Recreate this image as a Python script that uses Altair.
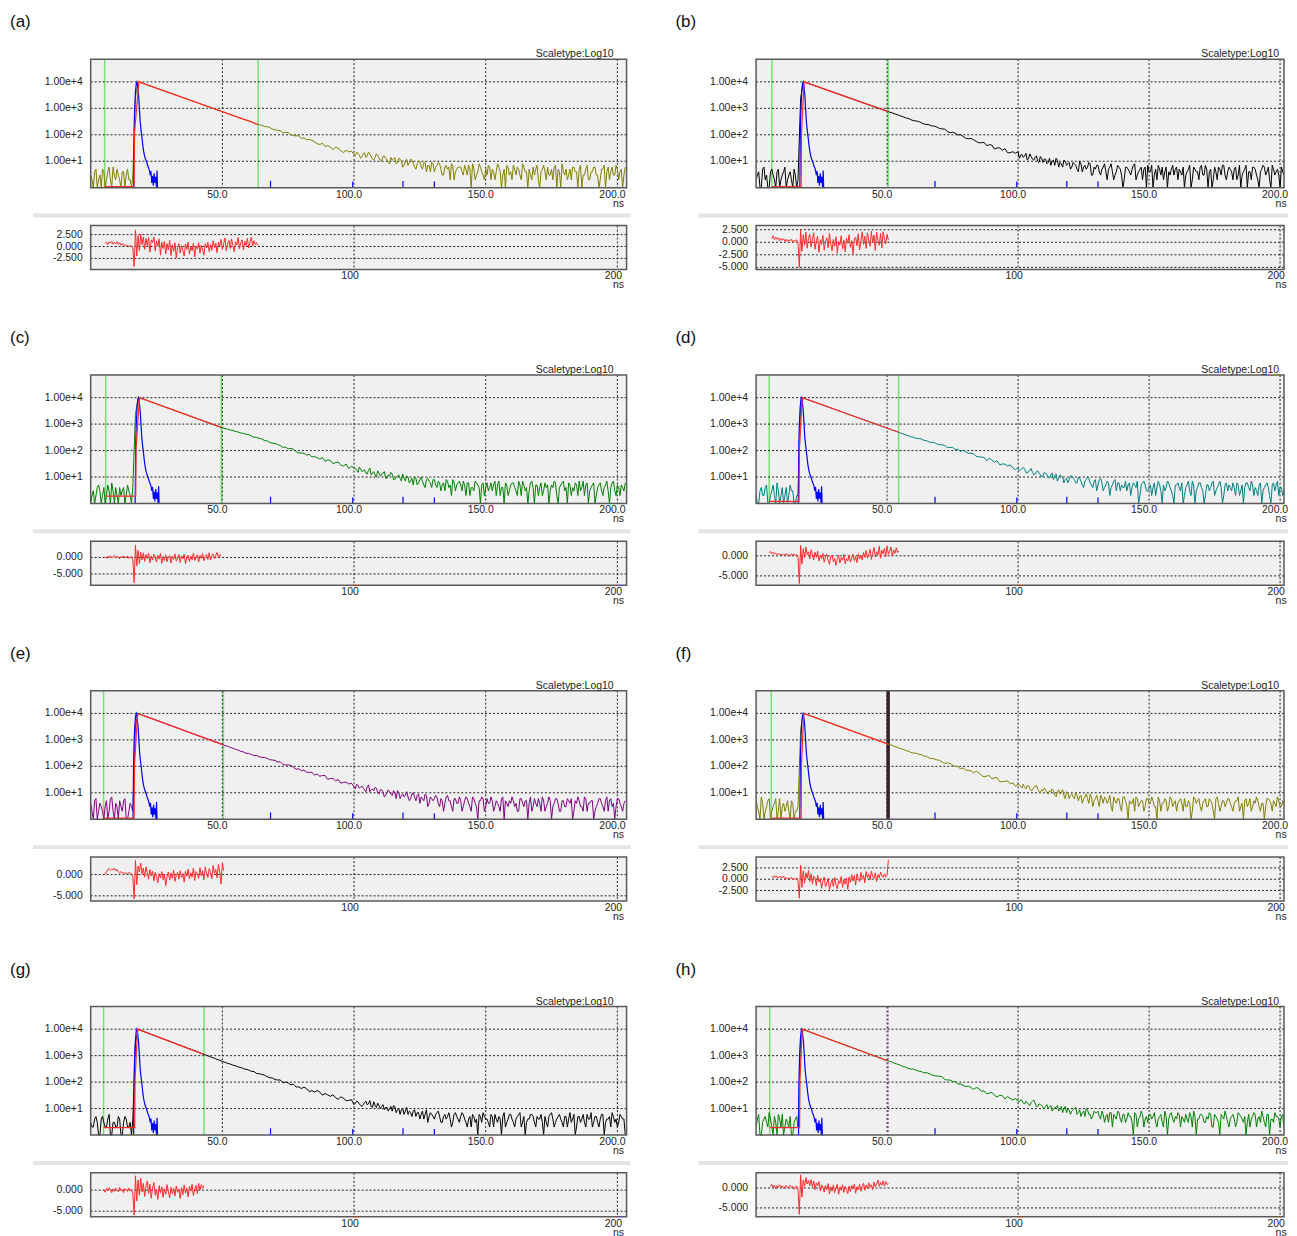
import altair as alt
import pandas as pd

FONT = "Arial"
TXT = "#222222"
BG = "#f0f0f0"
FRAME = "#5a5a5a"
OLIVE = "#7f7f00"
BLACK = "#000000"
GREEN_D = "#007f00"
TEAL = "#007f7f"
PURPLE = "#7f007f"
MARK_GREEN = "#72e472"
FIT_RED = "#ff2a2a"
IRF_BLUE = "#0000ff"

MAIN_H, RES_TOP, RES_BOT = 129, 167, 211
YTOP = 72000

# decay histograms, 1 ns bins starting at 0 ns
DECAY_A = [
    3, 1, 5, 2, 1, 4, 2, 6, 1, 3, 5, 2, 4, 1, 5, 2, 3,
    2600, 9600, 9400, 8700,
    8050, 7360, 6840, 6250, 5810, 5300, 4930, 4510, 4190, 3830,
    3560, 3250, 3030, 2760, 2570, 2330, 2190, 1980, 1860, 1690,
    1580, 1420, 1350, 1200, 1140, 1030, 968, 870, 825, 738,
    702, 628, 596, 530, 506, 452, 431, 382, 366,
    338, 317, 275, 249, 239, 228, 205, 203, 189, 163,
    155, 148, 144, 119, 125, 121, 101, 94, 91, 92,
    73, 76, 65, 66, 63, 54, 46, 43, 48, 36,
    39, 34, 28, 34, 31, 25, 21.5, 26, 22.5, 24,
    18.6,
    22, 17, 15, 21, 16, 19, 12, 14, 17, 11,
    15, 13, 9, 14, 12, 8, 13, 10, 7, 12,
    9, 11, 6, 8, 10, 5, 9, 7, 4, 8,
    6, 9, 5, 3, 7, 6, 8, 2, 5, 6,
    4, 7, 3, 5, 8, 2, 4, 6, 3, 5,
    7, 2, 4, 4, 6, 1, 5, 7, 3, 2,
    5, 6, 3, 8, 4, 1, 3, 6, 5, 2,
    4, 7, 2, 3, 5, 6, 1, 4, 8, 3,
    2, 5, 6, 4, 1, 7, 3, 5, 2, 4,
    6, 3, 1, 5, 7, 4, 2, 6, 3, 5,
    4, 1, 6,
]
DECAY_B = [
    2, 4, 1, 6, 3, 1, 5, 2, 4, 1, 3, 6, 2, 4, 1, 3, 2,
    2400, 9500, 9450, 8750,
    8010, 7460, 6830, 6370, 5800, 5420, 4940, 4620, 4200, 3940,
    3590, 3350, 3050, 2850, 2590, 2430, 2210, 2070, 1880, 1770,
    1600, 1500, 1360, 1280, 1160, 1090, 985, 928, 840, 790,
    716, 674, 610, 573, 519, 490, 441, 418, 375,
    344, 335, 319, 287, 258, 246, 240, 216, 214, 196,
    173, 166, 165, 135, 120, 125, 115, 98, 102, 87,
    74, 71, 73, 65, 56, 50, 50, 52, 39, 42,
    41, 29, 32, 32, 26, 30, 21, 21, 23, 20,
    23,
    17, 14, 20, 13, 15, 11, 16, 9, 13, 12,
    8, 13, 10, 7, 11, 9, 6, 10, 8, 5,
    9, 7, 4, 8, 6, 5, 9, 3, 6, 7,
    4, 5, 8, 2, 6, 4, 3, 7, 5, 1,
    6, 5, 3, 7, 2, 4, 6, 5, 1, 4,
    7, 3, 2, 5, 6, 4, 1, 3, 7, 5,
    2, 4, 6, 3, 5, 1, 6, 4, 2, 7,
    3, 5, 4, 1, 6, 2, 5, 7, 3, 4,
    5, 2, 6, 3, 1, 4, 7, 4, 2, 6,
    3, 1, 5, 6, 4, 2, 7, 3, 5, 1,
    4, 6, 2,
]
DECAY_C = [
    1, 3, 2, 5, 1, 4, 2, 3, 6, 1, 2, 4, 3, 1, 5, 2, 4,
    2300, 9700, 9560, 8870,
    8100, 7510, 6840, 6350, 5790, 5380, 4890, 4560, 4140, 3870,
    3500, 3280, 2960, 2780, 2500, 2360, 2110, 1990, 1790, 1690,
    1510, 1430, 1280, 1210, 1080, 1030, 915, 868, 772,
    735, 676, 648, 594, 571, 526, 505, 462, 446, 411,
    406, 354, 321, 315, 286, 276, 240, 232, 202, 190,
    187, 169, 153, 131, 136, 116, 121, 111, 91, 81,
    81, 79, 68, 72, 57, 60, 54, 47, 55, 39,
    45, 42, 32, 35, 37, 28, 26, 31, 21, 25,
    22,
    18, 24, 16, 19, 13, 22, 14, 12, 17, 11,
    14, 9, 12, 15, 8, 10, 12, 7, 9, 11,
    6, 9, 10, 5, 8, 7, 4, 9, 6, 8,
    5, 7, 3, 6, 8, 4, 2, 6, 5, 7,
    3, 5, 6, 2, 4, 7, 5, 1, 6, 4,
    3, 6, 5, 2, 7, 4, 1, 5, 3, 6,
    4, 2, 5, 7, 3, 1, 6, 4, 5, 2,
    6, 3, 4, 1, 5, 7, 2, 4, 6, 3,
    1, 5, 4, 6, 2, 3, 7, 5, 1, 4,
    6, 2, 5, 3, 4, 7, 1, 6, 3, 5,
    2, 4, 6,
]
DECAY_D = [
    2, 1, 4, 2, 5, 1, 3, 2, 6, 1, 4, 2, 1, 5, 3, 1, 2,
    3800, 9650, 8950, 8180,
    7600, 6930, 6450, 5890, 5480, 4990, 4660, 4230, 3960, 3600,
    3350, 3050, 2850, 2590, 2420, 2190, 2060, 1860, 1750, 1570,
    1490, 1330, 1270, 1130, 1080, 958, 915, 810, 778, 690,
    660, 582, 563, 510, 461, 434, 392, 368, 333,
    320, 288, 288, 276, 244, 239, 211, 206, 202, 178,
    167, 165, 155, 129, 131, 133, 110, 112, 93, 103,
    89, 79, 79, 76, 60, 58, 56, 56, 41, 51,
    44, 36, 41, 29, 31, 31, 26, 29, 22, 19,
    23,
    19, 23, 15, 17, 21, 12, 16, 14, 10, 15,
    12, 9, 14, 11, 7, 12, 10, 8, 6, 11,
    9, 6, 10, 7, 4, 8, 9, 5, 7, 3,
    8, 6, 4, 7, 2, 5, 8, 6, 3, 4,
    7, 5, 2, 6, 4, 1, 5, 7, 3, 4,
    2, 6, 4, 5, 1, 3, 7, 4, 2, 5,
    6, 3, 1, 4, 7, 2, 5, 3, 6, 4,
    1, 5, 3, 6, 2, 4, 7, 1, 5, 3,
    4, 6, 2, 5, 3, 1, 6, 4, 7, 2,
    3, 5, 1, 4, 6, 2, 5, 3, 7, 4,
    2, 5, 3,
]
DECAY_E = [
    4, 1, 6, 2, 3, 1, 5, 2, 7, 1, 3, 5, 2, 6, 1, 4, 2,
    3300, 9800, 9020, 8330,
    7620, 7060, 6440, 5990, 5440, 5070, 4600, 4290, 3880, 3640,
    3280, 3070, 2770, 2600, 2340, 2210, 1970, 1870, 1660, 1580,
    1400, 1340, 1180, 1130, 995, 958, 840, 812, 712,
    680, 612, 576, 519, 487, 438, 412, 369, 349, 312,
    306, 282, 255, 260, 231, 218, 217, 201, 178, 174,
    167, 145, 150, 118, 113, 113, 108, 92, 78, 81,
    69, 72, 60, 59, 59, 47, 51, 42, 45, 45,
    32, 34.5, 35, 28, 32, 23, 25, 25, 21.5, 23,
    17,
    21, 15, 18, 13, 17, 11, 14, 16, 10, 13,
    11, 8, 13, 9, 12, 6, 10, 8, 7, 11,
    5, 9, 7, 8, 4, 6, 9, 3, 7, 5,
    8, 4, 6, 2, 7, 5, 3, 6, 4, 7,
    2, 5, 6, 3, 7, 4, 1, 5, 6, 3,
    4, 7, 2, 5, 3, 6, 1, 4, 5, 7,
    3, 2, 6, 4, 5, 1, 7, 3, 4, 6,
    2, 5, 3, 7, 1, 4, 6, 2, 5, 3,
    6, 4, 1, 5, 7, 3, 2, 6, 4, 5,
    1, 3, 6, 4, 2, 7, 5, 3, 1, 6,
    4, 2, 5,
]
DECAY_F = [
    5, 2, 7, 1, 3, 6, 2, 4, 1, 6, 3, 2, 5, 1, 4, 2, 3,
    2500, 9500, 9320, 8650,
    7900, 7350, 6680, 6230, 5660, 5290, 4790, 4490, 4060, 3800,
    3430, 3230, 2910, 2740, 2470, 2320, 2090, 1970, 1770, 1670,
    1500, 1420, 1270, 1210, 1075, 1020, 910, 866, 770,
    728, 659, 618, 557, 524, 472, 445, 399, 378, 339,
    317, 314, 287, 278, 244, 241, 207, 197, 192, 175,
    170, 145, 129, 134, 130, 111, 99, 99, 81, 87,
    72, 70, 68, 56, 66, 57, 46, 40, 42.5, 45,
    34, 37, 37, 26, 26.6, 26.8, 28.5, 21.9, 23.5, 17.8,
    21,
    17, 21, 14, 18, 12, 16, 19, 11, 13, 15,
    10, 12, 14, 8, 11, 9, 13, 6, 10, 8,
    7, 10, 5, 8, 6, 9, 4, 7, 5, 8,
    3, 6, 7, 4, 8, 2, 5, 6, 3, 7,
    5, 1, 4, 6, 7, 3, 5, 2, 6, 4,
    7, 3, 1, 5, 4, 6, 2, 7, 3, 5,
    4, 6, 2, 3, 5, 1, 7, 4, 6, 2,
    5, 3, 6, 4, 1, 7, 2, 5, 3, 6,
    4, 2, 5, 7, 3, 1, 6, 4, 2, 5,
    7, 3, 4, 1, 6, 5, 2, 4, 7, 3,
    5, 2, 6,
]
DECAY_G = [
    3, 2, 5, 1, 4, 3, 2, 6, 1, 3, 2, 4, 1, 5, 2, 3, 4,
    3000, 9800, 9000, 8290,
    7540, 6980, 6320, 5880, 5310, 4950, 4470, 4160, 3750, 3500,
    3150, 2950, 2640, 2480, 2220, 2090, 1860, 1760, 1560, 1490,
    1340, 1215, 1128, 1022, 950, 858, 799, 721, 672, 605,
    560, 511, 481, 438, 414, 376, 355, 322, 305,
    286, 254, 250, 213, 206, 195, 184, 161, 146, 143,
    125, 120, 121, 95, 100, 93, 79, 83, 65, 66,
    57, 65, 56, 43, 48, 42, 48, 42, 32, 37,
    33, 29, 33, 25.6, 22.4, 27.7, 24.6, 20, 20.3, 21.7,
    14,
    19, 15, 12, 17, 14, 20, 11, 13, 16, 10,
    14, 11, 8, 12, 13, 7, 10, 9, 6, 11,
    8, 5, 9, 7, 4, 8, 6, 3, 7, 5,
    6, 8, 3, 5, 4, 7, 2, 6, 5, 3,
    7, 4, 2, 5, 6, 3, 1, 5, 7, 4,
    3, 6, 2, 4, 5, 1, 7, 3, 6, 4,
    2, 5, 7, 3, 1, 4, 6, 5, 2, 4,
    6, 1, 3, 5, 7, 2, 4, 6, 3, 5,
    2, 7, 4, 1, 5, 3, 6, 2, 4, 7,
    3, 5, 2, 6, 1, 4, 5, 7, 3, 2,
    6, 4, 1,
]
DECAY_H = [
    2, 6, 1, 4, 3, 7, 2, 5, 1, 4, 6, 2, 3, 5, 1, 4, 2,
    3900, 9700, 8870, 8210,
    7480, 6940, 6310, 5880, 5330, 4960, 4500, 4200, 3800, 3550,
    3210, 3010, 2710, 2550, 2290, 2160, 1930, 1830, 1630, 1550,
    1370, 1310, 1150, 1110, 965, 942, 815, 800, 688, 680,
    598, 566, 502, 475, 436, 389, 370, 329, 313,
    312, 282, 260, 253, 224, 228, 210, 189, 175, 170,
    166, 160, 125, 120, 120, 106, 106, 83, 86, 74,
    68, 71, 62, 53, 62, 58, 44, 47, 36, 38.5,
    41, 31.6, 27.5, 32, 30.5, 23, 28.5, 23.8, 21, 24,
    18.6,
    22, 16, 19, 14, 17, 21, 12, 15, 13, 10,
    14, 12, 8, 11, 13, 9, 7, 12, 10, 6,
    9, 11, 7, 5, 8, 10, 6, 4, 8, 7,
    5, 8, 3, 6, 7, 2, 5, 8, 4, 6,
    3, 7, 5, 1, 6, 4, 8, 2, 5, 6,
    4, 7, 2, 5, 3, 8, 1, 6, 4, 5,
    7, 2, 4, 6, 3, 5, 8, 1, 4, 6,
    3, 5, 7, 2, 6, 4, 1, 5, 8, 3,
    4, 6, 2, 7, 5, 3, 1, 6, 4, 7,
    2, 5, 8, 3, 6, 1, 4, 7, 5, 2,
    6, 3, 4,
]

# half-ns channels in the background-dominated parts (0.5..15.5 ns and 100.5..202.5 ns)
PRE_HALF = {
    "a": [2, 4, 1, 3, 5, 1, 4, 2, 6, 2, 3, 1, 4, 3, 2, 1],
    "b": [3, 1, 5, 2, 1, 4, 3, 1, 5, 2, 4, 1, 3, 2, 5, 1],
    "c": [2, 1, 4, 3, 2, 1, 5, 1, 3, 4, 1, 2, 4, 2, 3, 1],
    "d": [1, 3, 2, 4, 1, 2, 5, 1, 3, 2, 1, 4, 2, 3, 1, 2],
    "e": [2, 5, 1, 4, 2, 3, 1, 6, 2, 4, 1, 3, 5, 1, 2, 3],
    "f": [3, 1, 4, 2, 5, 1, 3, 6, 2, 1, 4, 3, 2, 5, 1, 2],
    "g": [2, 4, 3, 1, 5, 2, 4, 1, 3, 2, 5, 1, 3, 4, 2, 1],
    "h": [4, 1, 3, 5, 2, 4, 1, 3, 6, 2, 1, 4, 2, 1, 3, 5],
}
TAIL_HALF = {
    "a": [16, 20, 13, 18, 14, 22, 15, 11, 19, 13, 10, 16, 12, 8, 11, 14, 9, 12, 6, 10,
          7, 12, 8, 5, 10, 6, 9, 4, 7, 9, 4, 7, 8, 3, 6, 5, 2, 7, 4, 6,
          6, 3, 5, 7, 1, 5, 3, 8, 4, 2, 3, 6, 5, 2, 8, 4, 3, 1, 6, 4,
          7, 3, 5, 2, 6, 4, 5, 2, 3, 7, 1, 5, 4, 6, 3, 2, 7, 5, 1, 4,
          5, 3, 2, 6, 4, 5, 1, 3, 7, 2, 4, 6, 3, 2, 5, 1, 6, 4, 3, 7,
          2, 5, 3],
    "b": [13, 18, 16, 11, 19, 12, 14, 10, 15, 9, 12, 9, 7, 11, 13, 6, 8, 11, 7, 9,
          6, 8, 5, 10, 4, 7, 6, 8, 3, 5, 7, 3, 6, 4, 5, 8, 2, 4, 6, 3,
          2, 6, 4, 5, 8, 3, 5, 2, 6, 7, 4, 1, 5, 7, 3, 2, 6, 4, 5, 3,
          6, 5, 3, 1, 4, 7, 2, 5, 4, 6, 3, 7, 1, 5, 2, 4, 6, 3, 7, 2,
          6, 4, 5, 2, 7, 3, 5, 1, 4, 6, 5, 2, 4, 7, 3, 6, 1, 5, 4, 3,
          6, 3, 5],
    "c": [21, 15, 20, 17, 14, 18, 12, 16, 10, 14, 12, 16, 9, 11, 13, 8, 11, 9, 13, 7,
          10, 7, 5, 9, 6, 10, 5, 8, 7, 4, 8, 4, 6, 5, 3, 7, 5, 8, 3, 6,
          5, 7, 2, 6, 4, 3, 6, 4, 5, 2, 6, 4, 3, 7, 5, 2, 4, 6, 2, 5,
          6, 3, 7, 2, 5, 4, 3, 7, 1, 5, 4, 2, 6, 5, 3, 4, 6, 1, 5, 7,
          4, 6, 2, 3, 5, 7, 4, 2, 6, 3, 5, 1, 4, 6, 2, 5, 3, 4, 7, 2,
          4, 5, 3],
    "d": [17, 21, 20, 14, 18, 15, 13, 17, 12, 11, 14, 10, 12, 8, 13, 9, 11, 6, 9, 8,
          11, 8, 6, 9, 5, 7, 10, 6, 4, 8, 5, 9, 3, 5, 6, 4, 7, 3, 6, 5,
          4, 3, 6, 4, 5, 7, 2, 6, 5, 3, 5, 4, 2, 7, 3, 5, 4, 6, 3, 1,
          5, 4, 6, 2, 5, 3, 7, 1, 4, 6, 3, 2, 5, 4, 7, 3, 5, 4, 2, 6,
          5, 3, 4, 6, 2, 5, 4, 6, 3, 5, 4, 2, 6, 3, 5, 4, 1, 6, 5, 2,
          4, 3, 6],
    "e": [14, 19, 16, 15, 11, 20, 13, 12, 15, 9, 13, 7, 10, 11, 8, 10, 12, 6, 9, 8,
          7, 6, 10, 5, 9, 7, 5, 8, 4, 6, 6, 7, 3, 5, 4, 8, 5, 2, 6, 4,
          5, 3, 7, 4, 2, 6, 3, 5, 7, 2, 6, 4, 5, 3, 4, 2, 7, 5, 3, 4,
          5, 4, 2, 6, 3, 5, 4, 2, 6, 3, 4, 7, 2, 4, 5, 3, 6, 4, 2, 5,
          3, 5, 6, 2, 4, 5, 3, 7, 2, 4, 5, 2, 4, 6, 3, 5, 2, 6, 4, 3,
          6, 3, 4],
    "f": [20, 15, 16, 19, 14, 13, 17, 14, 10, 12, 13, 9, 11, 12, 7, 13, 10, 8, 11, 6,
          9, 6, 8, 7, 4, 7, 6, 9, 3, 6, 5, 8, 4, 6, 5, 3, 7, 4, 6, 2,
          7, 3, 5, 4, 2, 6, 4, 5, 3, 6, 4, 5, 3, 7, 2, 4, 5, 3, 6, 4,
          2, 5, 4, 6, 3, 4, 2, 6, 5, 3, 4, 6, 3, 5, 2, 6, 4, 3, 5, 4,
          6, 3, 4, 5, 2, 4, 5, 3, 6, 3, 4, 5, 2, 4, 3, 6, 4, 5, 3, 5,
          3, 4, 5],
    "g": [16, 18, 13, 14, 19, 15, 12, 18, 11, 13, 12, 9, 11, 10, 8, 12, 9, 6, 10, 8,
          6, 7, 8, 5, 7, 6, 4, 9, 5, 6, 4, 7, 5, 3, 6, 5, 4, 3, 7, 4,
          5, 6, 3, 4, 2, 5, 4, 6, 3, 5, 4, 2, 5, 6, 3, 4, 5, 2, 4, 6,
          3, 4, 6, 2, 5, 3, 4, 6, 3, 5, 4, 3, 5, 2, 6, 4, 3, 5, 4, 2,
          5, 4, 3, 6, 2, 5, 4, 3, 6, 4, 2, 5, 3, 4, 6, 3, 4, 2, 5, 4,
          3, 5, 4],
    "h": [18, 20, 15, 17, 13, 19, 16, 12, 14, 11, 12, 10, 13, 9, 11, 8, 12, 10, 7, 9,
          8, 10, 6, 9, 7, 5, 9, 6, 5, 7, 8, 4, 6, 5, 3, 7, 6, 4, 7, 3,
          6, 4, 5, 3, 7, 2, 5, 6, 4, 3, 6, 5, 3, 4, 6, 2, 5, 4, 7, 3,
          4, 6, 5, 3, 4, 7, 2, 5, 4, 6, 5, 3, 4, 6, 2, 5, 3, 6, 4, 5,
          2, 5, 4, 3, 6, 4, 5, 3, 2, 5, 6, 4, 3, 5, 2, 6, 4, 3, 5, 4,
          5, 2, 6],
}

# instrument response (lamp profile), shared by all panels
IRF_T = [16.3, 16.5, 16.7, 17.0, 17.3, 17.55, 17.8, 18.2, 18.5, 18.8, 19.1,
         19.5, 19.8, 20.1, 20.4, 20.7, 21.0, 21.3, 21.6, 22.0, 22.3, 22.6,
         22.9, 23.2, 23.5, 23.8, 24.1, 24.4, 24.7, 25.0, 25.2, 25.4, 25.6]
IRF_Y = [1, 150, 900, 4000, 8500, 10000, 7500, 3200, 1000, 316, 160,
         75, 40, 24, 17, 13, 11, 9, 7, 5.6, 4.5, 3,
         4.2, 1.5, 2.8, 1.2, 3.5, 1.5, 2.6, 1, 4.5, 1, 1]
IRF_SPIKE_T = [68.3, 99.5, 118.6, 130.5]
IRF_SPIKE_Y = [1.8, 1.7, 1.8, 1.7]

# weighted residuals, 0.5 ns steps from the start of the fit range
RES_A = [0.6, 0.9, 0.4, 1.0, 0.7, 1.1, 0.5, 0.9, 0.6, 1.0, 0.4, 0.8, 0.3, 0.6, 0.2, 0.4,
         0.1, 0.3, 0.0, 0.2, 0.1, -0.3,
         -4.2, 3.5, -2.0, 2.3, -0.8, 2.6, 0.4, 2.0,
         -0.6, 1.7, 0.2, 1.9, -1.2, 1.4, 0.8, 2.0, -0.9, 1.2, 0.1, 1.6, -1.8, 0.9, -0.4,
         1.1, -1.5, 0.6, -0.7, 1.3,
         -1.9, 0.4, -1.0, 0.8, -2.4, -0.2, 0.6, -1.3, 0.2, -0.8, -2.0, 0.5, -0.6, 0.9,
         -1.6, -0.1, -0.9, 0.7, -2.2, 0.1, -0.5, 0.8, -1.4, 0.3, -0.7, -1.8, 0.6, -0.3,
         0.9, -1.1,
         0.4, -0.8, 1.2, -0.2, 0.7, -1.3, 0.9, 0.1, 1.5, -0.6, 0.6, 1.8, -0.9, 0.5, 1.3,
         -0.4, 1.6, 0.2, -1.1, 1.0, 0.3, 1.9, -0.5, 0.8, 1.4, -0.7, 1.1, 0.2, 1.7, -0.3,
         0.9, 2.0, 0.1, 1.2, 0.4, 0.8, 0.2]
RES_B = [0.7, 1.3, 0.5, 1.0, 0.6, 0.9, 0.3, 0.8, 0.4, 0.7, 0.2, 0.6, 0.1, 0.5, 0.3, 0.6,
         0.0, 0.4, 0.2, 0.5, -0.2,
         -5.0, 2.4, -1.8, 1.5, -0.6, 2.0, -1.2, 0.8,
         1.6, -0.9, 0.7, 1.9, -1.4, 0.3, 1.2, -2.0, 0.5, -0.4, 1.4, -1.6, 0.2, 0.9, -1.1,
         1.8, -0.3, -1.7, 0.6, -0.8, 1.1, -2.2, 0.1, -0.5, 1.3, -1.3, 0.4, -1.9, 0.8, -0.2,
         1.5, -1.0, 0.3, -2.3, 0.7, 1.0, -0.7, 1.7, -1.5, 0.2, 2.1, -0.4, 1.2, -1.2, 1.9,
         0.5, -0.8, 2.2, -0.1, 1.4, -1.6, 2.0, 0.3, -0.6, 1.8, -1.1, 2.1, 0.6, -0.3, 1.6, 0.4]
RES_C = [0.2, -0.3, 0.4, 0.0, 0.5, -0.2, 0.3, 0.6, -0.1, 0.4, 0.1, -0.4, 0.3, 0.0, 0.5,
         -0.2, 0.2, 0.4, -0.3, 0.1, 0.3, -0.6,
         -7.6, 3.8, -2.6, 2.2, -1.9, 1.6, -0.7, 1.4,
         -1.2, 0.9, -0.3, 1.3, -1.6, 0.5, -0.8, 1.0, 0.2, -1.4, 0.7, -0.5, 1.2, -1.8, 0.3,
         -0.9, 0.8, -1.3, 0.1, 0.6, -1.7, 0.4, -0.6, 1.1, -1.1, -0.2, 0.9, -1.5, 0.5, -0.4,
         1.0, -1.9, 0.2, 0.7, -1.2, 0.4, -0.7, 1.3, -0.9, 0.1, 0.8, -1.4, 0.6, -0.3, 1.2,
         -1.0, 0.3, 0.9, -0.6, 1.4, -0.8, 0.5, 1.1, -0.4, 0.7, 1.5, -0.2, 0.9, 0.4]
RES_D = [0.8, 1.1, 0.5, 0.9, 0.4, 0.7, 0.3, 0.6, 0.2, 0.5, 0.1, 0.4, 0.2, 0.6, 0.0, 0.3,
         -0.1, 0.5, 0.2, 0.4, 0.1, 0.3, -0.4,
         -6.9, 2.6, -2.1, 1.8, -0.5, 2.2, 0.3, 1.0,
         -0.8, 1.5, 0.2, -1.0, 0.9, -0.4, 1.2, -1.3, 0.1, -0.7, 0.6, -1.6, -0.2, 0.4, -1.2,
         -2.1, -0.3, 0.2, -1.5, -0.6, -2.4, -0.9, 0.1, -1.8, -0.4, -1.1, 0.3, -2.0, -0.7,
         -1.3, 0.2, -1.6, -0.5, 0.4, -1.2, -0.2, -1.7, 0.5, -0.8, 0.1, -1.0, 0.8, -0.4, 1.3,
         -0.6, 0.3, 1.6, -0.9, 0.7, 2.1, -0.3, 1.0, 0.2, 2.4, -0.6, 1.4, 0.5, 1.9, -0.2,
         2.5, 0.4, 1.1, 2.2, -0.1, 1.5, 0.6, 2.0, 0.8, 1.2]
RES_E = [0.0, 0.1, 0.6, 1.2, 1.4, 1.0, 1.3, 1.1, 1.5, 0.9, 1.2, 0.6, 0.4, 0.7, 0.3, 0.5,
         0.2, 0.4, 0.1, 0.5, 0.3, 0.2, -0.5,
         -5.7, 3.3, -2.4, 2.0, 0.6, 2.7, 0.2, 1.5,
         -0.6, 1.8, 0.4, -1.0, 1.2, -0.3, 0.8, -1.5, 0.5, -0.4, -1.9, 0.2, -0.8, 0.7, -1.2,
         0.1, -2.6, -0.5, 0.6, -1.3, 0.3, -0.9, 1.0, -1.6, -0.2, 0.5, -1.1, 0.9, -0.7, 0.2,
         -1.8, 0.8, -0.4, 1.3, -1.0, 0.4, -0.6, 1.5, -1.4, 0.7, 0.1, -0.9, 1.6, -0.3, 0.9,
         -1.2, 1.8, 0.2, -0.7, 1.4, 0.5, -1.0, 2.1, 0.3, 1.2, -0.8, 2.4, 0.6, -2.2, 2.8, 0.9]
RES_F = [0.6, 0.3, 0.8, 0.4, 0.7, 0.2, 0.6, 0.5, 0.3, 0.7, 0.1, 0.4, 0.0, 0.3, 0.1, 0.4,
         -0.1, 0.2, 0.0, 0.3, -0.3,
         -4.2, 3.1, -1.8, 1.9, -0.9, 1.4, 0.2, 2.0,
         -0.5, 1.2, -1.1, 0.7, 0.3, -1.4, 0.9, -0.6, 0.1, -2.0, -0.4, 0.5, -1.7, -0.8, 0.2,
         -2.3, -1.0, -0.2, -1.6, 0.4, -1.2, -2.1, -0.3, -0.9, 0.6, -1.8, -0.1, -1.1, 0.3,
         -2.2, 0.5, -0.7, 1.0, -0.4, 0.8, -1.3, 1.2, 0.2, -0.6, 1.5, 0.1, 0.9, -0.8, 1.7,
         0.4, 1.1, -0.2, 1.8, 0.6, 0.2, 1.4, -0.5, 1.0, 0.3, 1.6, 0.7, 0.4, 1.2, 0.5, 0.9, 4.3]
RES_G = [0.1, -0.5, 0.4, -0.2, 0.6, 0.0, -0.6, 0.3, -0.3, 0.5, 0.1, -0.4, 0.7, -0.1, 0.2,
         -0.6, 0.4, 0.0, -0.3, 0.5, -0.2, 0.1, -0.8,
         -5.9, 3.4, -2.6, 2.4, -1.2, 2.8, -0.4, 1.6,
         -1.5, 0.9, 2.2, -0.8, 1.4, -1.9, 0.5, 1.8, -1.2, 0.2, -2.2, 1.1, -0.6, 0.8, -1.7,
         0.3, -1.0, 1.3, -0.3, -1.8, 0.7, -0.9, 0.4, -1.4, 1.0, -0.5, 0.2, -2.0, 0.6, -1.1,
         1.2, -0.7, 0.5, -1.6, 0.9, -0.2, 1.4, -1.3, 0.3, 1.1, -0.8, 1.6, 0.0, 1.3, 0.4, 1.1]
RES_H = [0.3, 0.9, 0.2, 0.7, -0.2, 0.6, 0.1, 0.8, 0.3, 0.5, -0.1, 0.4, 0.6, 0.0, 0.3, 0.7,
         0.1, 0.4, -0.3, 0.2, 0.5, -0.5,
         -6.6, 3.3, -2.3, 2.0, 0.4, 2.6, 1.0, 1.9,
         0.6, 2.1, 0.3, 1.7, -0.4, 1.3, 0.5, 1.6, -0.7, 0.8, 0.2, -1.0, 0.6, -0.4, 1.1,
         -1.5, 0.3, -0.8, 0.7, -1.2, 0.0, 0.9, -1.6, 0.2, -0.6, 0.8, -1.1, 0.4, -0.3, -1.4,
         0.5, -0.9, 0.6, -0.2, 1.0, -1.3, 0.3, -0.5, 0.9, -0.8, 0.4, 1.2, -0.6, 0.7, -0.1,
         1.3, 0.2, 0.8, -0.4, 1.5, 0.3, 1.0, 2.0, 0.4, 1.4, 0.7, 1.8, 0.5, 1.6, 0.9, 1.1]

MAIN_TICKS = [10, 100, 1000, 10000]
MAIN_TICK_TEXT = ["1.00e+1", "1.00e+2", "1.00e+3", "1.00e+4"]
X_TICKS = [50, 100, 150, 200]
X_TICK_TEXT = ["50.0", "100.0", "150.0", "200.0"]
RX_TICKS = [100, 200]
RX_TICK_TEXT = ["100", "200"]

LEFT = dict(width=538, xmax=203.5)
RIGHT = dict(width=530, xmax=201.5)

PANELS = [
    dict(LEFT, key="a", label="(a)", color=OLIVE, counts=DECAY_A, res=RES_A, res_t0=5.5,
         rdom=[-4.8, 4.4], rticks=[2.5, 0, -2.5], irf_shift=0.0,
         markers=[(5.3, MARK_GREEN, 1.5, False), (63.6, MARK_GREEN, 1.5, False)],
         fit_t=[5.3, 16.5, 16.65, 18.3, 63.6], fit_c=[1.1, 1.1, 120, 10000, 245]),
    dict(RIGHT, key="b", label="(b)", color=BLACK, counts=DECAY_B, res=RES_B, res_t0=6.0,
         rdom=[-5.4, 3.33], rticks=[2.5, 0, -2.5, -5], irf_shift=0.4,
         markers=[(6.0, MARK_GREEN, 1.5, False), (50.4, MARK_GREEN, 1.5, False)],
         fit_t=[6.0, 17.2, 17.35, 18.3, 50.4], fit_c=[1.1, 1.1, 120, 10000, 750]),
    dict(LEFT, key="c", label="(c)", color=GREEN_D, counts=DECAY_C, res=RES_C, res_t0=5.5,
         rdom=[-8.4, 4.9], rticks=[0, -5], irf_shift=0.6,
         markers=[(5.7, MARK_GREEN, 1.5, False), (49.6, MARK_GREEN, 1.5, False)],
         fit_t=[5.7, 17.1, 17.25, 18.5, 49.6], fit_c=[1.9, 1.9, 120, 10000, 750]),
    dict(RIGHT, key="d", label="(d)", color=TEAL, counts=DECAY_D, res=RES_D, res_t0=5.0,
         rdom=[-7.3, 3.6], rticks=[0, -5], irf_shift=-0.2,
         markers=[(5.0, MARK_GREEN, 1.5, False), (54.4, MARK_GREEN, 1.5, False)],
         fit_t=[5.0, 16.4, 16.55, 17.6, 54.4], fit_c=[1.2, 1.2, 120, 10000, 490]),
    dict(LEFT, key="e", label="(e)", color=PURPLE, counts=DECAY_E, res=RES_E, res_t0=5.0,
         rdom=[-6.2, 4.1], rticks=[0, -5], irf_shift=-0.2,
         markers=[(4.9, MARK_GREEN, 1.5, False), (50.4, MARK_GREEN, 1.5, False)],
         fit_t=[4.9, 16.5, 16.65, 17.8, 50.4], fit_c=[1.1, 1.1, 120, 10000, 650]),
    dict(RIGHT, key="f", label="(f)", color=OLIVE, counts=DECAY_F, res=RES_F, res_t0=6.0,
         rdom=[-4.8, 4.9], rticks=[2.5, 0, -2.5], irf_shift=0.4,
         markers=[(5.8, MARK_GREEN, 1.5, False), (50.4, "#3a1e2e", 3.5, False)],
         fit_t=[5.8, 17.2, 17.35, 18.2, 50.4], fit_c=[1.1, 1.1, 120, 10000, 690]),
    dict(LEFT, key="g", label="(g)", color=BLACK, counts=DECAY_G, res=RES_G, res_t0=5.0,
         rdom=[-6.3, 4.1], rticks=[0, -5], irf_shift=0.0,
         markers=[(4.9, MARK_GREEN, 1.5, False), (43.0, MARK_GREEN, 1.5, False)],
         fit_t=[4.9, 16.7, 16.85, 17.8, 43.0], fit_c=[1.9, 1.9, 120, 10000, 1120]),
    dict(RIGHT, key="h", label="(h)", color=GREEN_D, counts=DECAY_H, res=RES_H, res_t0=5.5,
         rdom=[-7.2, 3.8], rticks=[0, -5], irf_shift=-0.1,
         markers=[(5.2, MARK_GREEN, 1.5, False), (50.4, "#b040b0", 1.2, True)],
         fit_t=[5.2, 16.6, 16.75, 17.6, 50.4], fit_c=[1.9, 1.9, 120, 10000, 630]),
]


def fmt_res(v):
    return f"{v:.3f}"


def decay_frame(p):
    t = [float(i) for i in range(len(p["counts"]))]
    c = list(p["counts"])
    pre = PRE_HALF[p["key"]]
    t += [0.5 + i for i in range(len(pre))]
    c += pre
    tail = TAIL_HALF[p["key"]]
    t += [100.5 + i for i in range(len(tail))]
    c += tail
    return pd.DataFrame({"t": t, "c": c}).sort_values("t")


def make_panel(p):
    W = p["width"]
    xs = alt.Scale(domain=[0, p["xmax"]], nice=False, zero=False)
    ys = alt.Scale(type="log", domain=[1, YTOP], range=[MAIN_H, 0], nice=False)
    rs = alt.Scale(domain=p["rdom"], range=[RES_BOT, RES_TOP], nice=False, zero=False)

    def X(f):
        return alt.X(f, type="quantitative", scale=xs, axis=None)

    def YM(f):
        return alt.Y(f, type="quantitative", scale=ys, axis=None)

    def YR(f):
        return alt.Y(f, type="quantitative", scale=rs, axis=None)

    one = pd.DataFrame({"k": [0]})
    decay = decay_frame(p)
    irf = pd.DataFrame({"t": [t + p["irf_shift"] for t in IRF_T], "c": IRF_Y})
    spikes = pd.DataFrame({"t": IRF_SPIKE_T, "c": IRF_SPIKE_Y})
    fit = pd.DataFrame({"t": p["fit_t"], "c": p["fit_c"]})
    res = pd.DataFrame({"t": [p["res_t0"] + 0.5 * i for i in range(len(p["res"]))], "r": p["res"]})
    mticks = pd.DataFrame({"v": MAIN_TICKS, "s": MAIN_TICK_TEXT})
    xticks = pd.DataFrame({"v": X_TICKS, "s": X_TICK_TEXT})
    rxticks = pd.DataFrame({"v": RX_TICKS, "s": RX_TICK_TEXT})
    rticks = pd.DataFrame({"v": p["rticks"], "s": [fmt_res(v) for v in p["rticks"]]})

    L = []
    # separator bar between fit window and residual window
    L.append(alt.Chart(one).mark_rect(fill="#e4e4e4").encode(
        x=alt.value(-58), x2=alt.value(W + 4), y=alt.value(155), y2=alt.value(159)))
    # plot backgrounds
    L.append(alt.Chart(one).mark_rect(fill=BG).encode(
        x=alt.value(0), x2=alt.value(W), y=alt.value(0), y2=alt.value(MAIN_H)))
    L.append(alt.Chart(one).mark_rect(fill=BG).encode(
        x=alt.value(0), x2=alt.value(W), y=alt.value(RES_TOP), y2=alt.value(RES_BOT)))
    # range markers
    for t, col, sw, dashed in p["markers"]:
        kw = dict(color=col, strokeWidth=sw)
        if dashed:
            kw["strokeDash"] = [2, 2]
        L.append(alt.Chart(pd.DataFrame({"v": [t]})).mark_rule(**kw).encode(
            x=X("v"), y=alt.value(0), y2=alt.value(MAIN_H)))
    # grids
    grid = dict(color="#222222", strokeWidth=1, strokeDash=[2, 2])
    L.append(alt.Chart(mticks).mark_rule(**grid).encode(
        y=YM("v"), x=alt.value(0), x2=alt.value(W)))
    L.append(alt.Chart(xticks).mark_rule(**grid).encode(
        x=X("v"), y=alt.value(0), y2=alt.value(MAIN_H)))
    L.append(alt.Chart(rticks).mark_rule(**grid).encode(
        y=YR("v"), x=alt.value(0), x2=alt.value(W)))
    L.append(alt.Chart(rxticks).mark_rule(**grid).encode(
        x=X("v"), y=alt.value(RES_TOP), y2=alt.value(RES_BOT)))
    # data
    L.append(alt.Chart(decay).mark_line(color=p["color"], strokeWidth=1, clip=True).encode(
        x=X("t"), y=YM("c"), order="t:Q"))
    L.append(alt.Chart(irf).mark_line(color=IRF_BLUE, strokeWidth=1.2).encode(
        x=X("t"), y=YM("c")))
    L.append(alt.Chart(spikes).mark_rule(color=IRF_BLUE, strokeWidth=1.2).encode(
        x=X("t"), y=YM("c"), y2=alt.value(MAIN_H)))
    L.append(alt.Chart(fit).mark_line(color=FIT_RED, strokeWidth=1.2).encode(
        x=X("t"), y=YM("c")))
    L.append(alt.Chart(res).mark_line(color=FIT_RED, strokeWidth=1).encode(
        x=X("t"), y=YR("r")))
    # frames
    frame = dict(fillOpacity=0, stroke=FRAME, strokeWidth=1.5)
    L.append(alt.Chart(one).mark_rect(**frame).encode(
        x=alt.value(0), x2=alt.value(W), y=alt.value(0), y2=alt.value(MAIN_H)))
    L.append(alt.Chart(one).mark_rect(**frame).encode(
        x=alt.value(0), x2=alt.value(W), y=alt.value(RES_TOP), y2=alt.value(RES_BOT)))
    # labels
    small = dict(font=FONT, fontSize=10.5, color=TXT)
    L.append(alt.Chart(mticks).mark_text(align="right", baseline="middle", dx=-8, **small).encode(
        x=alt.value(0), y=YM("v"), text="s:N"))
    L.append(alt.Chart(rticks).mark_text(align="right", baseline="middle", dx=-8, **small).encode(
        x=alt.value(0), y=YR("v"), text="s:N"))
    L.append(alt.Chart(xticks).mark_text(align="center", baseline="middle", dx=-5, **small).encode(
        x=X("v"), y=alt.value(MAIN_H + 7), text="s:N"))
    L.append(alt.Chart(rxticks).mark_text(align="center", baseline="middle", dx=-4, **small).encode(
        x=X("v"), y=alt.value(RES_BOT + 7), text="s:N"))
    ns = pd.DataFrame({"v": [200.4], "s": ["ns"]})
    L.append(alt.Chart(ns).mark_text(align="center", baseline="middle", **small).encode(
        x=X("v"), y=alt.value(MAIN_H + 16), text="s:N"))
    L.append(alt.Chart(ns).mark_text(align="center", baseline="middle", **small).encode(
        x=X("v"), y=alt.value(RES_BOT + 16), text="s:N"))
    L.append(alt.Chart(one).mark_text(align="right", baseline="middle", **small).encode(
        x=alt.value(525), y=alt.value(-5), text=alt.value("Scaletype:Log10")))
    L.append(alt.Chart(one).mark_text(align="left", baseline="middle", font=FONT,
                                      fontSize=17, color="#111111").encode(
        x=alt.value(-81), y=alt.value(-37), text=alt.value(p["label"])))

    return alt.layer(*L).resolve_scale(y="independent").properties(width=W, height=RES_BOT)


panels = [make_panel(p) for p in PANELS]

chart = alt.concat(
    *panels, columns=2, spacing={"row": 106, "column": 130}, bounds="flush"
).properties(
    padding={"left": 2, "top": 3, "right": 0, "bottom": 0}
).configure_view(stroke=None)

chart.save("out.html", embed_options={"renderer": "svg", "actions": False})
